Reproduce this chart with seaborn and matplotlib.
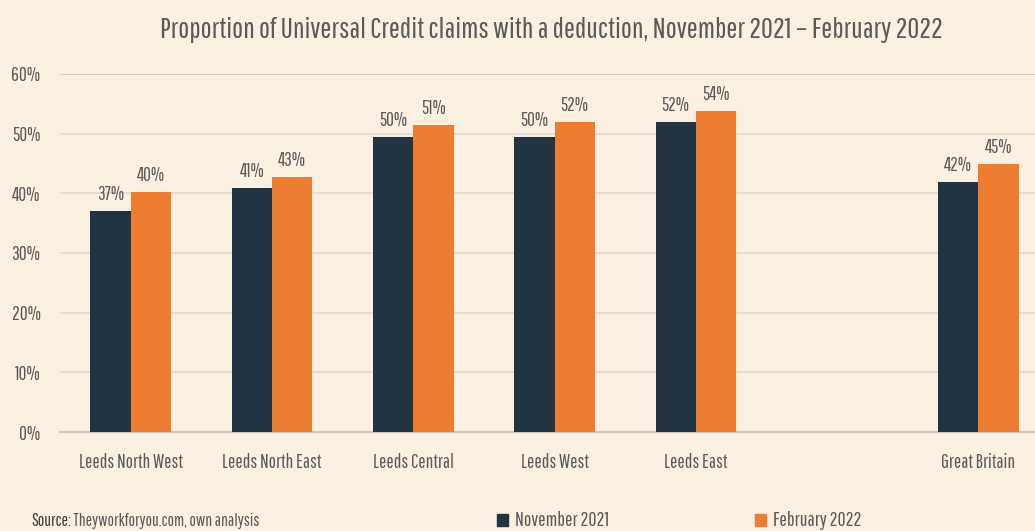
"""
share of universal credit claims with a deduction, leeds constituencies vs GB
"""

import numpy as np
import pandas as pd
import matplotlib
matplotlib.use('Agg')
import matplotlib.pyplot as plt
import seaborn as sns


constituencies = ['Leeds North West', 'Leeds North East', 'Leeds Central',
                  'Leeds West', 'Leeds East', 'Great Britain']
# empty slot between Leeds East and Great Britain
slot_order = ['Leeds North West', 'Leeds North East', 'Leeds Central',
              'Leeds West', 'Leeds East', ' ', 'Great Britain']
nov_2021 = [37.1, 40.9, 49.5, 49.5, 52.0, 41.9]
feb_2022 = [40.3, 42.7, 51.4, 52.0, 53.8, 44.9]
periods = ['November 2021', 'February 2022']
y_ticks = [0, 10, 20, 30, 40, 50, 60]

df = pd.DataFrame({'constituency': constituencies * 2,
                   'period': [periods[0]] * 6 + [periods[1]] * 6,
                   'share': nov_2021 + feb_2022})

bg = '#FAF0E2'
grey_txt = '#5A5A5A'
palette = {periods[0]: '#223341', periods[1]: '#ED7D31'}
fam = ['Pathway Gothic One', 'DejaVu Sans']

sns.set_style('white')
plt.rcParams['font.family'] = fam

fig = plt.figure(figsize=(10.35, 5.31), dpi=100, facecolor=bg)
renderer = fig.canvas.get_renderer()


def fit_size(s, target_px):
    # font size that makes string s about target_px wide
    t = fig.text(0, 0, s, fontsize=10)
    w = t.get_window_extent(renderer).width
    t.remove()
    return 10 * target_px / w


title_fs = fit_size('Proportion of Universal Credit claims with a deduction, November 2021 \u2013 February 2022', 777)
cat_fs = fit_size('Leeds North West', 103)
ytick_fs = fit_size('60%', 29)
val_fs = fit_size('37%', 27)
leg_fs = fit_size('November 2021', 93)
src_fs = fit_size('Source: Theyworkforyou.com, own analysis', 227)

ax = fig.add_axes([60 / 1035, 99 / 531, 975 / 1035, 358 / 531])
ax.set_facecolor(bg)

sns.barplot(data=df, x='constituency', y='share', hue='period',
            order=slot_order, hue_order=periods, palette=palette,
            width=0.57, gap=0, saturation=1, errorbar=None,
            edgecolor='none', ax=ax, zorder=3)

for cont in ax.containers:
    ax.bar_label(cont, fmt='{:.0f}%', padding=5, fontsize=val_fs, color=grey_txt)

ax.set_xlim(-0.5, 6.4)
ax.set_ylim(0, 60)
ax.set_yticks(y_ticks)
ax.set_yticklabels([f'{t}%' for t in y_ticks])
ax.yaxis.grid(True, color='#E3DCD1', linewidth=1.3, zorder=0)
ax.set_axisbelow(True)
ax.get_ygridlines()[-1].set_color('#CBC7C0')
ax.tick_params(axis='y', length=0, pad=14, labelsize=ytick_fs, labelcolor=grey_txt)
ax.tick_params(axis='x', length=0, pad=15, labelsize=cat_fs, labelcolor=grey_txt)
ax.set_xlabel('')
ax.set_ylabel('')
for side in ['top', 'right', 'left']:
    ax.spines[side].set_visible(False)
ax.spines['bottom'].set_color('#C8C6C2')
ax.spines['bottom'].set_linewidth(1.3)

ax.legend_.remove()
# one legend per entry so each sits where the reference has it
sq_em = 11 / (leg_fs / 0.72)
for p, x_px in zip(periods, [497, 755]):
    fig.legend([plt.Rectangle((0, 0), 1, 1, color=palette[p])], [p],
               loc='center left', bbox_to_anchor=(x_px / 1035, 10 / 531),
               frameon=False, fontsize=leg_fs, labelcolor=grey_txt,
               borderpad=0, borderaxespad=0,
               handlelength=sq_em, handleheight=sq_em, handletextpad=0.35)

fig.suptitle('Proportion of Universal Credit claims with a deduction, November 2021 \u2013 February 2022',
             x=551 / 1035, y=1 - 30 / 531, va='center', fontsize=title_fs, color=grey_txt)

src = fig.text(31 / 1035, 10 / 531, 'Source:', fontsize=src_fs, color='#3A3A3A', va='center')
ax.annotate(' Theyworkforyou.com, own analysis', xy=(1, 0.5), xycoords=src,
            va='center', ha='left', fontsize=src_fs, color=grey_txt, annotation_clip=False)

fig.savefig('out.png', dpi=100, facecolor=bg)
